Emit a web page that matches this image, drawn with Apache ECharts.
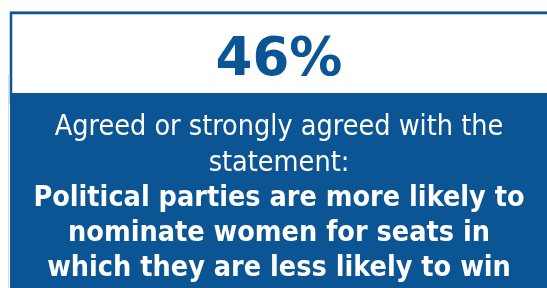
<!DOCTYPE html>
<html>
<head>
<meta charset="utf-8">
<script src="https://cdn.jsdelivr.net/npm/echarts@6/dist/echarts.min.js"></script>
<style>
  html, body { margin: 0; padding: 0; background: #fff; }
  #main { width: 547px; height: 288px; }
</style>
</head>
<body>
<div id="main"></div>
<script>
const share = [46]
const introLines = ['Agreed or strongly agreed with the', 'statement:']
const statementLines = [
  'Political parties are more likely to',
  'nominate women for seats in',
  'which they are less likely to win'
]

const blue = '#0b5594'
const condensed = '"DejaVu Sans Condensed", "DejaVu Sans", sans-serif'
const cx = 279

let chart = echarts.init(document.getElementById('main'))

// y values are baselines, shifted for the 'middle' anchor (about 0.3em)
let elements = [
  { type: 'line', shape: { x1: 8.5, y1: 75, x2: 8.5, y2: 288 }, style: { stroke: '#d5dbe2', lineWidth: 1 } },
  { type: 'rect', shape: { x: 11, y: 13, width: 560, height: 90 }, style: { fill: '#fff', stroke: blue, lineWidth: 2.5 } },
  { type: 'line', shape: { x1: 10, y1: 11.5, x2: 547, y2: 11.5 }, style: { stroke: '#6f9ccc', lineWidth: 1 } },
  { type: 'rect', shape: { x: 10, y: 93, width: 537, height: 195 }, style: { fill: blue } },
  {
    type: 'text', x: cx, y: 76.7 - 0.297 * 53,
    style: { text: share[0] + '%', fill: blue, font: 'bold 53px "DejaVu Sans", sans-serif', textAlign: 'center', textVerticalAlign: 'middle' }
  }
]

introLines.forEach((line, i) => {
  elements.push({
    type: 'text', x: cx, y: 135.7 + i * 36 - 0.297 * 28.5,
    style: { text: line, fill: '#fff', font: '28.5px ' + condensed, textAlign: 'center', textVerticalAlign: 'middle' }
  })
})

statementLines.forEach((line, i) => {
  elements.push({
    type: 'text', x: cx, y: 206.7 + i * 35 - 0.297 * 28.5,
    style: { text: line, fill: '#fff', font: 'bold 28.5px ' + condensed, textAlign: 'center', textVerticalAlign: 'middle' }
  })
})

chart.setOption({
  animation: false,
  graphic: { elements: elements }
})
</script>
</body>
</html>
